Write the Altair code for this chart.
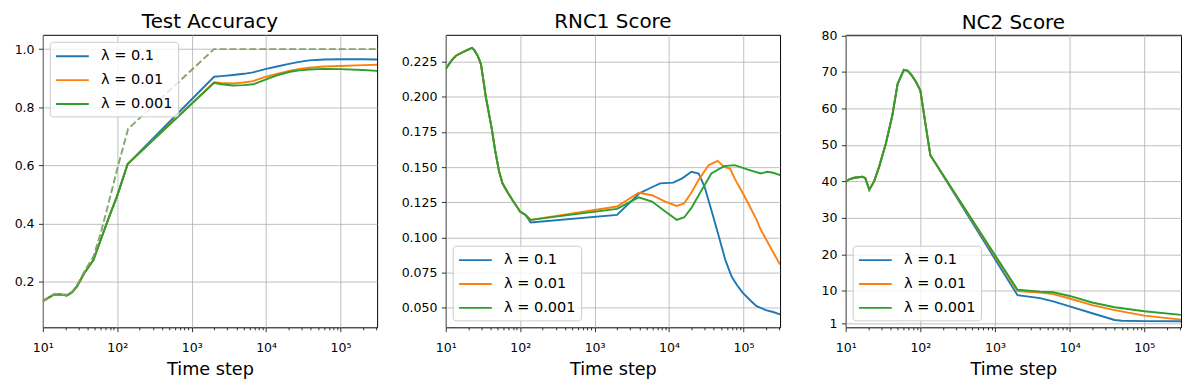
import altair as alt
import pandas as pd

LAMBDAS = ["λ = 0.1", "λ = 0.01", "λ = 0.001"]
COLORS = ["#1f77b4", "#ff7f0e", "#2ca02c"]
DASH_COLOR = "#80a060"

# ---------------- Test Accuracy ----------------
acc_early_steps = [10, 14, 17, 21, 25, 29, 36, 48, 60, 80, 99, 138]
acc_early_vals = [0.134, 0.156, 0.157, 0.153, 0.165, 0.186, 0.230, 0.276, 0.345, 0.432, 0.493, 0.605]
acc_late_steps = [2000, 2500, 3600, 5000, 6700, 10000, 14000, 21000, 28000, 38000, 60000, 100000, 200000, 310000]
acc_late_blue = [0.905, 0.907, 0.911, 0.915, 0.920, 0.932, 0.940, 0.950, 0.956, 0.961, 0.964, 0.965, 0.965, 0.964]
acc_late_orange = [0.886, 0.884, 0.882, 0.885, 0.890, 0.905, 0.915, 0.926, 0.932, 0.936, 0.940, 0.942, 0.945, 0.946]
acc_late_green = [0.884, 0.879, 0.875, 0.876, 0.879, 0.896, 0.910, 0.922, 0.927, 0.930, 0.932, 0.931, 0.928, 0.925]
train_steps = [10, 14, 17, 21, 25, 29, 36, 48, 60, 80, 99, 140, 2000, 310000]
train_vals = [0.134, 0.158, 0.157, 0.156, 0.168, 0.190, 0.235, 0.288, 0.368, 0.490, 0.584, 0.726, 1.0, 1.0]

# ---------------- RNC1 Score ----------------
rnc_early_steps = [10, 12, 13.7, 17.8, 22.5, 24.2, 27, 29.7, 34.6, 41.6, 46, 52, 57.8, 68, 78.7, 90, 99.5, 118]
rnc_early_vals = [0.2198, 0.2260, 0.2292, 0.2323, 0.2348, 0.2332, 0.2290, 0.2233, 0.1997, 0.1770, 0.1620, 0.1470, 0.1385,
                  0.1320, 0.1266, 0.1220, 0.1184, 0.1160]
rnc_blue_steps = [138, 2000, 4000, 5500, 7600, 11400, 15000, 20000, 25000, 30000, 37000, 46000, 57000, 69000, 82000,
                  98000, 125000, 150000, 200000, 250000, 310000]
rnc_blue_vals = [0.1106, 0.1160, 0.1314, 0.1350, 0.1385, 0.1390, 0.1420, 0.1467, 0.1455, 0.1360, 0.1195, 0.1020, 0.0840,
                 0.0724, 0.0660, 0.0606, 0.0550, 0.0512, 0.0483, 0.0470, 0.0453]
rnc_orange_steps = [138, 2000, 3900, 5900, 8900, 12700, 16000, 20000, 25000, 34000, 45000, 55000, 66000, 76000, 98000,
                    115000, 150000, 170000, 310000]
rnc_orange_vals = [0.1125, 0.1220, 0.1318, 0.1300, 0.1255, 0.1224, 0.1243, 0.1320, 0.1410, 0.1514, 0.1545, 0.1502, 0.1490,
                   0.1420, 0.1314, 0.1245, 0.1125, 0.1056, 0.0807]
rnc_green_steps = [138, 2000, 3900, 5900, 8900, 12700, 16000, 20000, 25000, 37000, 55000, 76000, 115000, 170000, 210000,
                   250000, 310000]
rnc_green_vals = [0.1125, 0.1203, 0.1285, 0.1255, 0.1184, 0.1125, 0.1144, 0.1210, 0.1300, 0.1455, 0.1507, 0.1514, 0.1483,
                  0.1455, 0.1467, 0.1460, 0.1443]

# ---------------- NC2 Score ----------------
nc2_early_steps = [10, 11.2, 13, 16.8, 18.3, 20.7, 24, 28, 34.5, 42, 49.5, 60, 68, 77, 88, 100, 117, 136]
nc2_early_vals = [39.9, 40.6, 41.0, 41.3, 40.9, 37.7, 40.0, 44.0, 50.4, 58.0, 66.7, 70.6, 70.3, 69.0, 67.2, 64.9, 55.8, 47.2]
nc2_late_steps = [2000, 4000, 6000, 10000, 20000, 40000, 50000, 100000, 310000]
nc2_late_blue = [8.8, 8.0, 7.1, 5.75, 3.85, 2.0, 1.8, 1.7, 1.65]
nc2_late_orange_steps = [2000, 4000, 6000, 10000, 20000, 40000, 100000, 310000]
nc2_late_orange = [9.9, 9.5, 9.1, 7.9, 6.1, 4.7, 3.2, 2.1]
nc2_late_green = [10.3, 9.8, 9.6, 8.6, 6.8, 5.5, 4.4, 3.4]


def rows(lam, steps, vals):
    return [{"lam": lam, "step": s, "value": v} for s, v in zip(steps, vals)]


acc_df = pd.DataFrame(
    rows(LAMBDAS[0], acc_early_steps + acc_late_steps, acc_early_vals + acc_late_blue)
    + rows(LAMBDAS[1], acc_early_steps + acc_late_steps, acc_early_vals + acc_late_orange)
    + rows(LAMBDAS[2], acc_early_steps + acc_late_steps, acc_early_vals + acc_late_green)
)
train_df = pd.DataFrame(rows("train", train_steps, train_vals))

rnc_df = pd.DataFrame(
    rows(LAMBDAS[0], rnc_early_steps + rnc_blue_steps, rnc_early_vals + rnc_blue_vals)
    + rows(LAMBDAS[1], rnc_early_steps + rnc_orange_steps, rnc_early_vals + rnc_orange_vals)
    + rows(LAMBDAS[2], rnc_early_steps + rnc_green_steps, rnc_early_vals + rnc_green_vals)
)

nc2_df = pd.DataFrame(
    rows(LAMBDAS[0], nc2_early_steps + nc2_late_steps, nc2_early_vals + nc2_late_blue)
    + rows(LAMBDAS[1], nc2_early_steps + nc2_late_orange_steps, nc2_early_vals + nc2_late_orange)
    + rows(LAMBDAS[2], nc2_early_steps + nc2_late_orange_steps, nc2_early_vals + nc2_late_green)
)

X_DOMAIN = [10, 310000]
x_ticks = [m * 10 ** e for e in range(1, 6) for m in range(1, 10) if m * 10 ** e <= 310000]
MAJOR_TEST = "indexof([10,100,1000,10000,100000], datum.value) >= 0"
x_label_expr = ("datum.value==10?'10¹':datum.value==100?'10²':datum.value==1000?'10³':"
                "datum.value==10000?'10⁴':datum.value==100000?'10⁵':''")

W, H = 336, 294
LW = 1.9


def x_enc():
    return alt.X(
        "step:Q",
        scale=alt.Scale(type="log", domain=X_DOMAIN, nice=False),
        title="Time step",
        axis=alt.Axis(
            values=x_ticks,
            labelExpr=x_label_expr,
            tickSize={"condition": {"test": MAJOR_TEST, "value": 4.4}, "value": 2.5},
            gridOpacity={"condition": {"test": MAJOR_TEST, "value": 1}, "value": 0},
            labelFlush=False,
            labelOverlap=False,
            labelPadding=10,
        ),
    )


def y_enc(domain, values, fmt, extent):
    return alt.Y(
        "value:Q",
        scale=alt.Scale(domain=domain, nice=False, zero=False),
        title=None,
        axis=alt.Axis(values=values, format=fmt, minExtent=extent, maxExtent=extent),
    )


def color_enc(orient):
    return alt.Color(
        "lam:N",
        scale=alt.Scale(domain=LAMBDAS, range=COLORS),
        legend=alt.Legend(
            title=None,
            orient=orient,
            offset=7,
            fillColor="rgba(255,255,255,0.8)",
            strokeColor="#cccccc",
            cornerRadius=3,
            padding=5,
            symbolType="M-1,0H3",
            symbolSize=272,
            symbolStrokeWidth=LW,
            labelFontSize=14.6,
            labelFont="DejaVu Sans",
            labelColor="black",
            labelOffset=27.5,
            rowPadding=7,
        ),
    )


def title(t, off):
    return alt.TitleParams(t, fontSize=20, font="DejaVu Sans", fontWeight="normal", color="black",
                           anchor="middle", frame="group", offset=off)


p1_lines = alt.Chart(acc_df).mark_line(strokeWidth=LW, clip=True).encode(
    x=x_enc(),
    y=y_enc([0.044, 1.049], [0.2, 0.4, 0.6, 0.8, 1.0], ".1f", 34),
    color=color_enc("top-left"),
)
p1_train = alt.Chart(train_df).mark_line(strokeWidth=LW, strokeDash=[7, 3], clip=True, color=DASH_COLOR,
                                         opacity=0.95).encode(
    x="step:Q",
    y="value:Q",
)
p1 = alt.layer(p1_lines, p1_train).properties(width=W, height=H, title=title("Test Accuracy", 3))

p2 = alt.Chart(rnc_df).mark_line(strokeWidth=LW, clip=True).encode(
    x=x_enc(),
    y=y_enc([0.0361, 0.2441], [0.05, 0.075, 0.1, 0.125, 0.15, 0.175, 0.2, 0.225], ".3f", 43),
    color=color_enc("bottom-left"),
).properties(width=W, height=H, title=title("RNC1 Score", 3))

p3 = alt.Chart(nc2_df).mark_line(strokeWidth=LW, clip=True).encode(
    x=x_enc(),
    y=y_enc([0, 80.2], [1, 10, 20, 30, 40, 50, 60, 70, 80], "d", 42),
    color=color_enc("bottom-left"),
).properties(width=W + 1, height=H, title=title("NC2 Score", -3))

chart = (
    alt.hconcat(p1, p2, p3, spacing=22)
    .resolve_scale(color="independent", x="independent", y="independent")
    .resolve_legend(color="independent")
    .properties(padding={"top": 2, "left": 0, "right": 0, "bottom": 0}, background="white")
    .configure_view(stroke="black", strokeWidth=1)
    .configure_axis(
        labelFont="DejaVu Sans",
        labelFontSize=12.6,
        labelColor="black",
        labelPadding=4.4,
        tickColor="black",
        tickWidth=0.8,
        tickSize=4.4,
        domain=False,
        grid=True,
        gridColor="#b0b0b0",
        gridWidth=0.8,
        titleFont="DejaVu Sans",
        titleFontSize=17.7,
        titleFontWeight="normal",
        titleColor="black",
        titlePadding=6,
    )
)

chart.save("out.html", embed_options={"renderer": "svg", "actions": False})
